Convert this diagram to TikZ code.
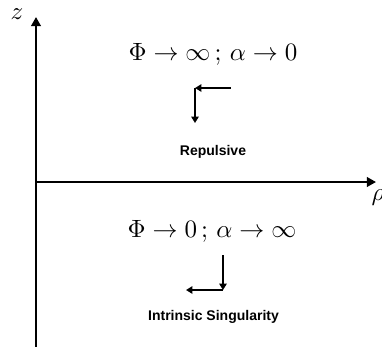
\documentclass[tikz,border=0pt]{standalone}
\usepackage{fontspec}
\newfontfamily\labfont{Liberation Sans}
\usetikzlibrary{arrows.meta}
\begin{document}
\begin{tikzpicture}[x=0.4pt,y=-0.4pt,
  axis/.style={line width=0.8pt,-{Triangle[length=3.6pt,width=3.8pt]}},
  flow/.style={line width=0.7pt,-{Triangle[length=2.6pt,width=3pt]}},
  lab/.style={font=\labfont\bfseries\fontsize{5.6}{6.5}\selectfont, inner sep=0pt},
  mth/.style={inner sep=0pt}]
\useasboundingbox (0,0) rectangle (382,349);
\coordinate (o) at (36,182);
\coordinate (zb) at (36,347);
\coordinate (zt) at (36,17);
\coordinate (re) at (376,182);
\draw[line width=0.8pt] (o) -- (zb);
\draw[axis] (o) -- (zt);
\draw[axis] (o) -- (re);
\node[mth] (zl) at (17,14) {$z$};
\node[mth] (rl) at (378,198) {$\rho$};
\node[mth] (top) at (213,54) {$\Phi \to \infty\,;\, \alpha \to 0$};
\node[mth] (bot) at (212,231) {$\Phi \to 0\,;\, \alpha \to \infty$};
\node[lab] (rep) at (213,152) {Repulsive};
\node[lab] (sing) at (213.5,317) {Intrinsic Singularity};
\coordinate (a1) at (231,88);
\coordinate (a2) at (195,88);
\coordinate (a3) at (195,123);
\draw[flow] (a1) -- (a2);
\draw[flow] (a2) -- (a3);
\coordinate (b1) at (223,255);
\coordinate (b2) at (223,290);
\coordinate (b3) at (186,290);
\draw[flow] (b1) -- (b2);
\draw[flow] (b2) -- (b3);
\end{tikzpicture}
\end{document}
